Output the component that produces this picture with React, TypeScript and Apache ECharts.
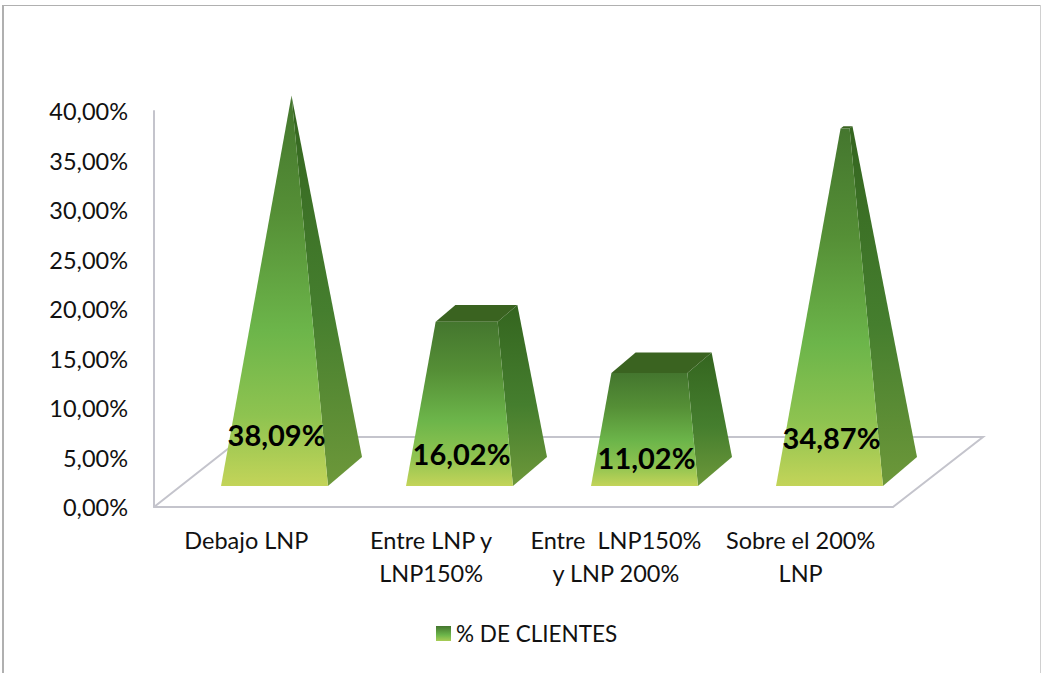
import React, { useEffect, useRef } from "react";
import * as echarts from "echarts";

const categories = ["Debajo LNP", "Entre LNP y\nLNP150%", "Entre  LNP150%\ny LNP 200%", "Sobre el 200%\nLNP"];
const values = [38.09, 16.02, 11.02, 34.87];
const seriesName = "% DE CLIENTES";
const FONT = "Lato, Carlito, 'Open Sans', sans-serif";

const fmt = (v: number) => v.toFixed(2).replace(".", ",") + "%";
const grad = (stops: [number, string][]) =>
  new echarts.graphic.LinearGradient(0, 0, 0, 1, stops.map(([offset, color]) => ({ offset, color })));

export default function App() {
  const ref = useRef<HTMLDivElement>(null);
  useEffect(() => {
    document.body.style.margin = "0";
    const chart = echarts.init(ref.current!, undefined, { renderer: "svg" });
    const peak = Math.max(...values);
    const renderItem = (_p: any, api: any) => {
      const i = api.value(0);
      const v = api.value(1);
      const band = api.size([1, 0])[0];
      const cx = api.coord([i, 0])[0];
      const y0 = api.coord([i, 0])[1];
      const yPeak = api.coord([i, peak])[1];
      const hw = band * 0.289;
      const dx = band * 0.184;
      const dy = 29;
      const t = v / peak;
      const apex = [cx + dx / 2, yPeak];
      const corner = (sx: number, back: boolean, at: number) => {
        const bx = cx + sx * hw + (back ? dx : 0);
        const by = y0 - (back ? dy : 0);
        return [bx + (apex[0] - bx) * at, by + (apex[1] - by) * at];
      };
      const fl0 = corner(-1, false, 0), fr0 = corner(1, false, 0), br0 = corner(1, true, 0);
      const flt = corner(-1, false, t), frt = corner(1, false, t), brt = corner(1, true, t), blt = corner(-1, true, t);
      const labelY = api.coord([i, v * 0.083])[1] - 19;
      return {
        type: "group",
        children: [
          {
            type: "polygon",
            shape: { points: [fr0, br0, brt, frt] },
            style: {
              fill: grad([[0, "#34651f"], [0.55, "#457e2e"], [1, "#6d983a"]]),
            },
          },
          {
            type: "polygon",
            shape: { points: [flt, frt, brt, blt] },
            style: { fill: "#3a6320" },
          },
          {
            type: "polygon",
            shape: { points: [fl0, fr0, frt, flt] },
            style: {
              fill: grad([[0, "#44762e"], [0.3, "#558f36"], [0.6, "#6cb54a"], [0.82, "#8ec350"], [1, "#c3d459"]]),
            },
          },
          {
            type: "text",
            style: {
              text: fmt(v),
              x: cx + 2,
              y: labelY,
              align: "center",
              verticalAlign: "middle",
              font: `bold 29px ${FONT}`,
              fill: "#000",
            },
          },
        ],
      };
    };
    const line = (points: number[][], stroke = "#c4c4cc", lineWidth = 2) => ({
      type: "polyline",
      shape: { points },
      style: { stroke, lineWidth, fill: "none" },
      silent: true,
    });
    chart.setOption({
      animation: false,
      backgroundColor: "#fff",
      textStyle: { fontFamily: FONT },
      graphic: [
        line([[3, 673], [3, 5]], "#b0b0b0", 2),
        line([[2, 5.5], [1040, 5.5]], "#b0b0b0", 1),
        line([[1040.5, 5], [1040.5, 673]], "#d0d0d0", 1),
        line([[154, 507], [243, 437], [983, 437], [893, 507]]),
      ],
      legend: {
        left: 431,
        top: 617,
        icon: "rect",
        itemWidth: 15,
        itemHeight: 15,
        itemGap: 4,
        data: [
          {
            name: seriesName,
            itemStyle: { color: grad([[0, "#44762e"], [0.6, "#6cb54a"], [1, "#a8cc55"]]) },
          },
        ],
        textStyle: { fontFamily: FONT, fontSize: 22.5, color: "#111", padding: 0 },
      },
      grid: [
        { left: 154, top: 111, width: 739, height: 396 },
        { left: 182, top: 76, width: 740, height: 410 },
      ],
      xAxis: [
        {
          type: "category",
          gridIndex: 0,
          data: categories,
          axisTick: { show: false },
          axisLine: { lineStyle: { color: "#c4c4cc", width: 2 } },
          axisLabel: { color: "#111", fontSize: 23.5, fontFamily: FONT, lineHeight: 33, margin: 16, interval: 0 },
        },
        { type: "category", gridIndex: 1, data: categories, show: false },
      ],
      yAxis: [
        {
          type: "value",
          gridIndex: 0,
          min: 0,
          max: 40,
          interval: 5,
          splitLine: { show: false },
          axisTick: { show: false },
          axisLine: { show: true, lineStyle: { color: "#c4c4cc", width: 2 } },
          axisLabel: { color: "#111", fontSize: 23.5, fontFamily: FONT, margin: 26, formatter: (v: number) => fmt(v) },
        },
        { type: "value", gridIndex: 1, min: 0, max: 40, show: false },
      ],
      series: [
        {
          type: "custom",
          name: seriesName,
          xAxisIndex: 1,
          yAxisIndex: 1,
          clip: false,
          renderItem,
          encode: { x: 0, y: 1 },
          data: values.map((v, i) => [i, v]),
        },
      ],
    });
    return () => chart.dispose();
  }, []);
  return <div ref={ref} style={{ width: 1041, height: 673, overflow: "hidden" }} />;
}
